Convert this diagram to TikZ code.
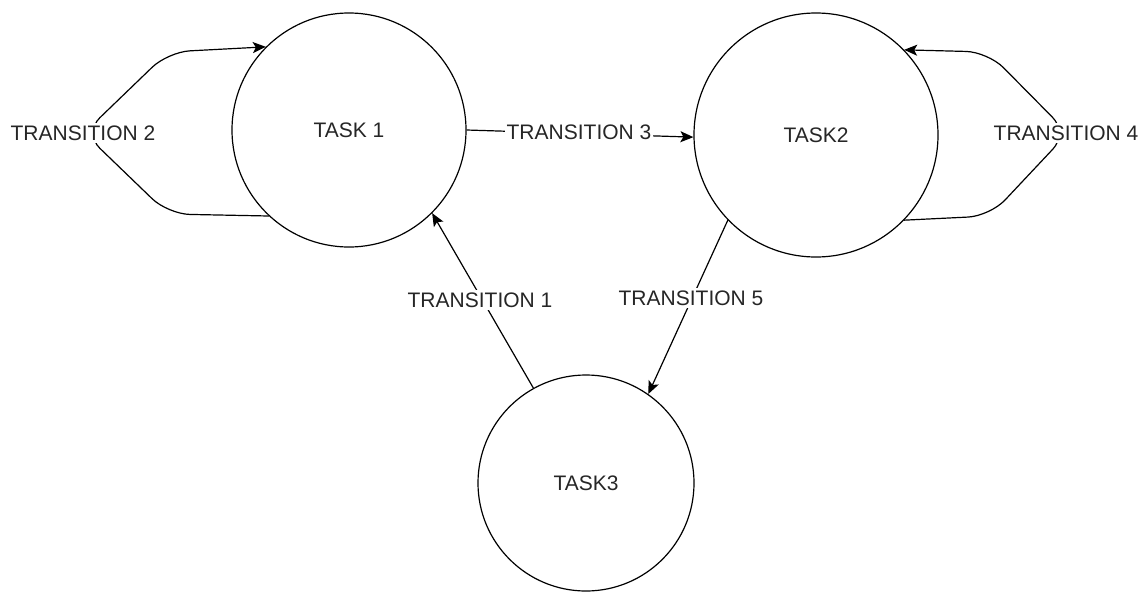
\documentclass[tikz,border=0pt]{standalone}
\usepackage{fontspec}
\setmainfont{Liberation Sans}
\usetikzlibrary{arrows.meta}
\begin{document}
\begin{tikzpicture}[x=1pt,y=-1pt,
  task/.style={circle,draw=black,line width=1.2pt,inner sep=0pt,font=\fontsize{21}{24}\selectfont,text=black!85},
  lbl/.style={fill=white,inner sep=3pt,font=\fontsize{21}{24}\selectfont,text=black!85},
  edge/.style={draw=black,line width=1.2pt,-{Stealth[length=13pt,width=11pt,inset=3pt]}}]
\useasboundingbox (0,0) rectangle (1146,592);
\node[task,minimum size=234pt] (t1) at (349,130) {TASK 1};
\node[task,minimum size=244pt] (t2) at (816,135) {TASK2};
\node[task,minimum size=216pt] (t3) at (586,483) {TASK3};
% transition 2 (self loop on task 1)
\coordinate (v2) at (84,133);
\draw[edge,rounded corners=22pt] (t1.227) -- (168,214) -- (v2) -- (168,52) -- (t1.135);
\node[lbl] (l2) at (83,133) {TRANSITION 2};
% transition 4 (self loop on task 2)
\coordinate (v4) at (1068,133);
\draw[edge,rounded corners=22pt] (t2.316) -- (990,216) -- (v4) -- (988,52) -- (t2.44);
\node[lbl] (l4) at (1066,133) {TRANSITION 4};
% transition 3
\draw[edge] (t1.0) -- (t2.181);
\node[lbl,inner sep=2pt] (l3) at (579,132) {TRANSITION 3};
% transition 1
\draw[edge] (t3.119.6) -- (t1.315);
\node[lbl] (l1) at (480,300) {TRANSITION 1};
% transition 5
\draw[edge] (t2.224.7) -- (t3.55.7);
\node[lbl] (l5) at (691,298) {TRANSITION 5};
\end{tikzpicture}
\end{document}
